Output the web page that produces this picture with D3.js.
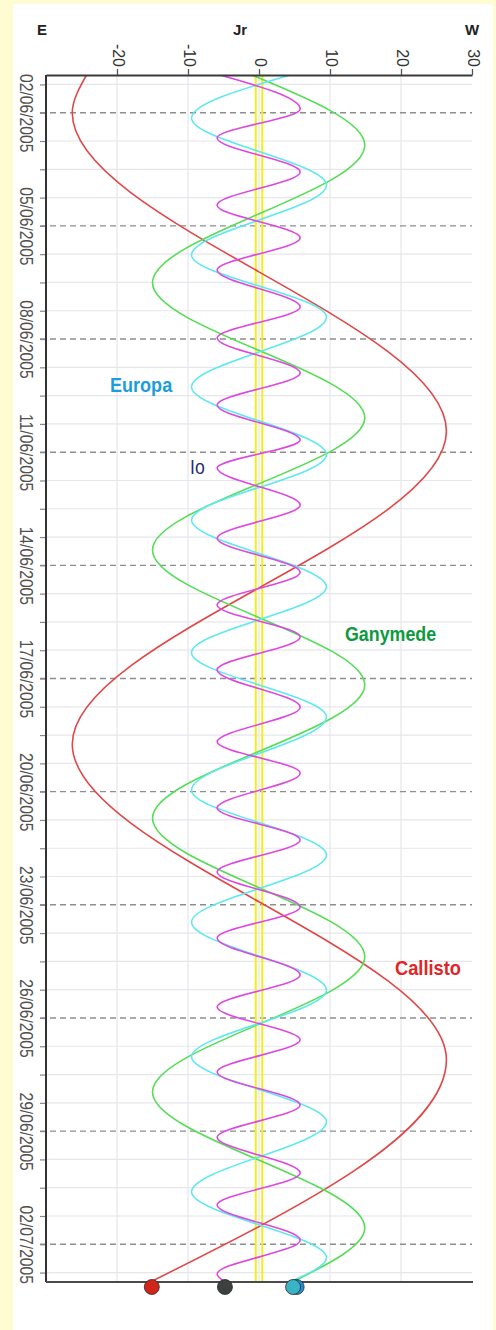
<!DOCTYPE html>
<html><head><meta charset="utf-8">
<script src="https://cdn.jsdelivr.net/npm/d3@7"></script>
<style>body{margin:0;background:#fffcd2;}svg{display:block;}</style>
</head><body>
<svg id="chart" width="496" height="1330"></svg>
<script>
// ---------- data (days since 01/06/2005 00:00, offsets in Jupiter radii) ----------
const xTicks = [-20, -10, 0, 10, 20, 30];
const xTickLabels = ["-20", "-10", "0", "10", "20", "30"];
const dateLabels = ["02/06/2005","05/06/2005","08/06/2005","11/06/2005","14/06/2005","17/06/2005",
                    "20/06/2005","23/06/2005","26/06/2005","29/06/2005","02/07/2005"];
const labelDays = [1, 4, 7, 10, 13, 16, 19, 22, 25, 28, 31];

const ioDays = [0, 0.90, 1.67, 2.57, 3.45, 4.32, 5.17, 6.15, 6.97, 7.90, 8.75, 9.68, 10.42, 11.40, 12.28,
                13.18, 14.05, 14.90, 15.77, 16.76, 17.68, 18.51, 19.43, 20.28, 21.13, 22.06, 22.88, 23.86,
                24.71, 25.58, 26.43, 27.31, 28.16, 29.11, 29.96, 30.89, 31.79, 32];
const ioJr = [-5.5, 5.8, -5.9, 5.8, -5.9, 5.8, -5.9, 5.8, -5.9, 5.8, -5.9, 5.8, -5.9, 5.8, -5.9,
              5.8, -5.9, 5.8, -5.9, 5.8, -5.9, 5.8, -5.9, 5.8, -5.9, 5.8, -5.9, 5.8,
              -5.9, 5.8, -5.9, 5.8, -5.9, 5.8, -5.9, 5.8, -5.9, -4.8];

const europaDays = [0, 1.14, 2.92, 4.77, 6.42, 8.27, 10.07, 11.80, 13.57, 15.32, 17.02, 18.96,
                    20.68, 22.46, 24.26, 26.03, 27.76, 29.61, 31.36, 32];
const europaJr = [4.4, -9.5, 9.5, -9.5, 9.5, -9.5, 9.5, -9.5, 9.5, -9.5, 9.5, -9.5,
                  9.5, -9.5, 9.5, -9.5, 9.5, -9.5, 9.5, 4.3];

const ganymedeDays = [0, 1.86, 5.51, 9.09, 12.59, 16.17, 19.70, 23.38, 26.96, 30.57, 32];
const ganymedeJr = [-1.0, 14.9, -15.0, 14.9, -15.0, 14.9, -15.0, 14.9, -15.0, 14.9, 4.7];

const callistoDays = [0, 1.01, 9.44, 17.74, 26.11, 32];
const callistoJr = [-24.3, -26.3, 26.4, -26.3, 26.4, -15.3];

const moonNames = ["Europa", "Ganymede", "Io", "Callisto"];
const moonEndJr = [5.3, 4.8, -4.8, -15.1];
const moonDotColors = ["#1f8fdc", "#3ab3c4", "#3b4141", "#d1251b"];
const jupiterEdges = [-0.46, 0.46];

// ---------- layout ----------
const W = 496, H = 1330;
const L = 46, R = 472, T = 75, B = 1282;
const FONT = "Liberation Sans, Arial, sans-serif";
const svg = d3.select("#chart");
const start = new Date(2005, 5, 1);
const dayMs = 864e5;
const toDate = d => new Date(start.getTime() + d * dayMs);

const x = d3.scaleLinear().domain([-30, 30]).range([L, R]);
const y = d3.scaleTime().domain([start, toDate(32)]).range([T, B]);

svg.append("rect").attr("width", W).attr("height", H).attr("fill", "#fffcd2");
svg.append("rect").attr("x", 13).attr("y", 4).attr("width", 480).attr("height", H - 4).attr("fill", "#ffffff");

// grid: vertical
svg.append("g").selectAll("line").data(xTicks.filter(v => v !== 30)).join("line")
  .attr("x1", d => x(d)).attr("x2", d => x(d)).attr("y1", T).attr("y2", B)
  .attr("stroke", "#e6e6ec").attr("stroke-width", 1.2);

// grid: horizontal minor (every 18 h)
const minorDays = d3.range(0.25, 32, 0.75);
svg.append("g").selectAll("line").data(minorDays.filter(d => (d - 1) % 3 !== 0)).join("line")
  .attr("x1", L).attr("x2", R).attr("y1", d => y(toDate(d))).attr("y2", d => y(toDate(d)))
  .attr("stroke", "#e6e6ec").attr("stroke-width", 1.2);

// dashed grid at labelled dates
svg.append("g").selectAll("line").data(labelDays).join("line")
  .attr("x1", L - 6).attr("x2", R).attr("y1", d => y(toDate(d))).attr("y2", d => y(toDate(d)))
  .attr("stroke", "#8e8e8e").attr("stroke-width", 1.4).attr("stroke-dasharray", "6,4");

// Jupiter disk edges
svg.append("g").selectAll("line").data(jupiterEdges).join("line")
  .attr("x1", d => x(d)).attr("x2", d => x(d)).attr("y1", T).attr("y2", B)
  .attr("stroke", "#f2ee1a").attr("stroke-width", 2);

// curves
svg.append("clipPath").attr("id", "clip").append("rect")
  .attr("x", L).attr("y", T).attr("width", R - L).attr("height", B - T);
const line = d3.line().x(d => x(d[1])).y(d => y(toDate(d[0]))).curve(d3.curveMonotoneY);
const series = [
  {days: callistoDays, vals: callistoJr, color: "#e04848"},
  {days: ganymedeDays, vals: ganymedeJr, color: "#55dd55"},
  {days: europaDays, vals: europaJr, color: "#5ee8f0"},
  {days: ioDays, vals: ioJr, color: "#dd48e0"}
];
const cg = svg.append("g").attr("clip-path", "url(#clip)");
series.forEach(s => {
  cg.append("path").datum(d3.zip(s.days, s.vals)).attr("d", line)
    .attr("fill", "none").attr("stroke", s.color).attr("stroke-width", 1.6);
});

// top axis
const topAxis = svg.append("g").attr("transform", `translate(0,${T})`)
  .call(d3.axisTop(x).tickValues(xTicks).tickSize(6).tickSizeOuter(0).tickPadding(0)
    .tickFormat((d, i) => xTickLabels[i]));
topAxis.select(".domain").attr("stroke", "#3a3a3a").attr("stroke-width", 2);
topAxis.selectAll(".tick line").attr("stroke", "#555").attr("stroke-width", 1.3);
topAxis.selectAll(".tick text")
  .attr("x", null).attr("y", null).attr("dy", null)
  .attr("text-anchor", "end")
  .attr("transform", "translate(-5,-8) rotate(90)")
  .attr("font-family", FONT).attr("font-size", 16)
  .attr("fill", "#333");

// left axis ticks
const leftTicks = svg.append("g").attr("transform", `translate(${L},0)`)
  .call(d3.axisLeft(y).tickValues(minorDays.map(toDate)).tickSize(6).tickSizeOuter(0).tickFormat(""));
leftTicks.select(".domain").remove();
leftTicks.selectAll(".tick line").attr("stroke", "#888").attr("stroke-width", 1.2);

// left axis labels
const leftLabels = svg.append("g").attr("transform", `translate(${L},0)`)
  .call(d3.axisLeft(y).tickValues(labelDays.map(toDate)).tickSize(0).tickSizeOuter(0)
    .tickFormat((d, i) => dateLabels[i]));
leftLabels.select(".domain").remove();
leftLabels.selectAll(".tick text")
  .attr("x", null).attr("dy", null).attr("text-anchor", "middle")
  .attr("transform", "translate(-26,0) rotate(90) scale(0.98,1.15)")
  .attr("font-family", FONT).attr("font-size", 16)
  .attr("fill", "#505050");

// axis lines
svg.append("line").attr("x1", L).attr("x2", L).attr("y1", T).attr("y2", B)
  .attr("stroke", "#333").attr("stroke-width", 2);
svg.append("line").attr("x1", L).attr("x2", R + 1).attr("y1", B).attr("y2", B)
  .attr("stroke", "#4a4a4a").attr("stroke-width", 2.2);

// headers
const hdr = [["E", L - 4], ["Jr", 240], ["W", R]];
svg.append("g").selectAll("text").data(hdr).join("text")
  .attr("transform", d => `translate(${d[1]},35)`)
  .attr("text-anchor", "middle")
  .attr("font-family", FONT).attr("font-weight", "bold")
  .attr("font-size", 15).attr("fill", "#222").text(d => d[0]);

// moon positions at end
svg.append("g").selectAll("circle").data(d3.range(moonNames.length)).join("circle")
  .attr("cx", i => x(moonEndJr[i])).attr("cy", B + 5).attr("r", 7.5)
  .attr("fill", i => moonDotColors[i]).attr("stroke", "#2a2a2a").attr("stroke-width", 0.8);

// moon name labels
const labels = [
  {t: "Europa", x: 110, y: 392, c: "#1b9ddb", w: "bold", s: 21, k: 0.86},
  {t: "Io", x: 190, y: 474, c: "#2a2a78", w: "normal", s: 20, k: 0.88},
  {t: "Ganymede", x: 345, y: 641, c: "#0e9a3e", w: "bold", s: 21, k: 0.85},
  {t: "Callisto", x: 395, y: 975, c: "#e02626", w: "bold", s: 21, k: 0.87}
];
svg.append("g").selectAll("text").data(labels).join("text")
  .attr("transform", d => `translate(${d.x},${d.y}) scale(${d.k},1)`)
  .attr("font-family", FONT)
  .attr("font-weight", d => d.w).attr("font-size", d => d.s).attr("fill", d => d.c)
  .text(d => d.t);
</script>
</body></html>
